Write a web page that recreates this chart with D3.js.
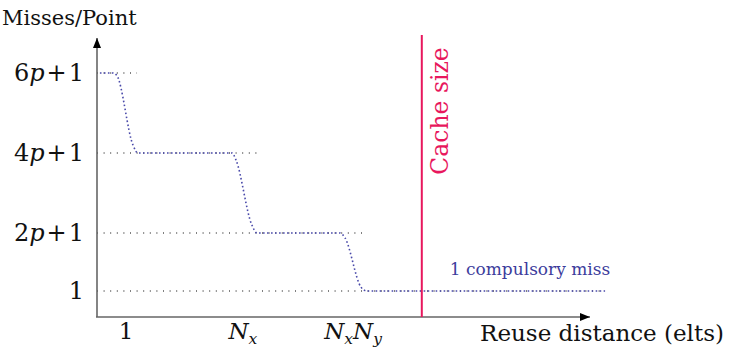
<!DOCTYPE html>
<html><head><meta charset="utf-8">
<script src="https://cdn.jsdelivr.net/npm/d3@7"></script>
<style>body{margin:0;background:#fff}svg{display:block}text{font-family:"DejaVu Serif",serif}</style>
</head><body><svg id="c" width="729" height="353"></svg>
<script>
// reuse distance (arbitrary units) and misses/point level values
const curveX = [0.10,0.55,0.69,1.24,1.41,4.66,4.79,5.34,5.52,8.38,8.55,9.10,9.31,17.52];
const curveY = [6,6,5.93,4.2,4,4,3.83,2.2,2,2,1.88,0.65,0.55,0.55];
const levelValues = [6,4,2,0.55];
const levelLabels = [["6","p","+1"],["4","p","+1"],["2","p","+1"],["1","",""]];
const levelGuideEnd = [1.38,5.55,9.24,17.52];
const xTickValues = [1,5.03,8.83];
const xTickLabels = [[["1",""]],[["N",""],["x","sub"]],[["N",""],["x","sub"],["N",""],["y","sub"]]];
const cacheSize = 11.2;

const svg = d3.select("#c");
const x = d3.scaleLinear().domain([0,17]).range([97,590]);
const y = d3.scaleLinear().domain([0,6]).range([313,73]);

const defs = svg.append("defs");
defs.append("marker").attr("id","arr").attr("viewBox","0 0 10 10").attr("refX",10).attr("refY",5)
  .attr("markerWidth",10).attr("markerHeight",10).attr("markerUnits","userSpaceOnUse").attr("orient","auto")
  .append("path").attr("d","M0,1 L10,5 L0,9 Z").attr("fill","#000");

// guides
svg.append("g").selectAll("line").data(levelValues).join("line")
  .attr("x1",x(0)).attr("x2",(d,i)=>x(levelGuideEnd[i]))
  .attr("y1",d=>y(d)).attr("y2",d=>y(d))
  .attr("stroke","#000").attr("stroke-width",1).attr("stroke-dasharray","1,5.6");

// curve
const pts = curveX.map((v,i)=>[v,curveY[i]]);
svg.append("path").datum(pts)
  .attr("d",d3.line().x(d=>x(d[0])).y(d=>y(d[1])).curve(d3.curveMonotoneX))
  .attr("fill","none").attr("stroke","#4a4aaa").attr("stroke-width",1.6).attr("stroke-dasharray","1.6,2.4");

// axes
svg.append("line").attr("x1",x(0)).attr("x2",x(0)).attr("y1",317).attr("y2",38)
  .attr("stroke","#666").attr("stroke-width",1.6).attr("marker-end","url(#arr)");
svg.append("line").attr("x1",x(0)-1).attr("x2",x(17)).attr("y1",317).attr("y2",317)
  .attr("stroke","#666").attr("stroke-width",1.6).attr("marker-end","url(#arr)");

// cache line
svg.append("line").attr("x1",x(cacheSize)).attr("x2",x(cacheSize)).attr("y1",35).attr("y2",317)
  .attr("stroke","#e8175d").attr("stroke-width",2);
svg.append("text").attr("transform",`translate(${x(cacheSize)+26},111) rotate(-90)`)
  .attr("text-anchor","middle").attr("font-size",23.5).attr("fill","#e8175d").text("Cache size");

// y labels
const yl = svg.append("g").selectAll("text").data(levelValues).join("text")
  .attr("x",84).attr("y",d=>y(d)+8).attr("text-anchor","end").attr("font-size",24).attr("fill","#111");
yl.each(function(d,i){
  const t=d3.select(this), L=levelLabels[i];
  t.append("tspan").text(L[0]);
  if(L[1]){ t.append("tspan").attr("font-style","italic").text(L[1]);
    t.append("tspan").attr("dx",2).text("+"); t.append("tspan").attr("dx",2).text("1"); }
});

// x labels
svg.append("g").selectAll("text").data(xTickValues).join("text")
  .attr("x",d=>x(d)).attr("y",339).attr("text-anchor","middle").attr("font-size",23).attr("fill","#111")
  .each(function(d,i){
    const t=d3.select(this);
    xTickLabels[i].forEach(p=>{
      if(p[1]==="sub") t.append("tspan").attr("font-size",15.5).attr("font-style","italic").attr("dy",5).text(p[0]);
      else { const s=t.append("tspan").text(p[0]); if(p[0]!=="1") s.attr("font-style","italic");
             if(t.selectAll("tspan").size()>1) s.attr("dy",-5); }
    });
  });

svg.append("text").attr("x",724).attr("y",341).attr("text-anchor","end").attr("font-size",23).attr("fill","#111").text("Reuse distance (elts)");
svg.append("text").attr("x",2).attr("y",25).attr("font-size",21).attr("fill","#111").text("Misses/Point");
svg.append("text").attr("x",530).attr("y",275).attr("text-anchor","middle").attr("font-size",17).attr("fill","#3c3c9c").text("1 compulsory miss");
</script></body></html>
